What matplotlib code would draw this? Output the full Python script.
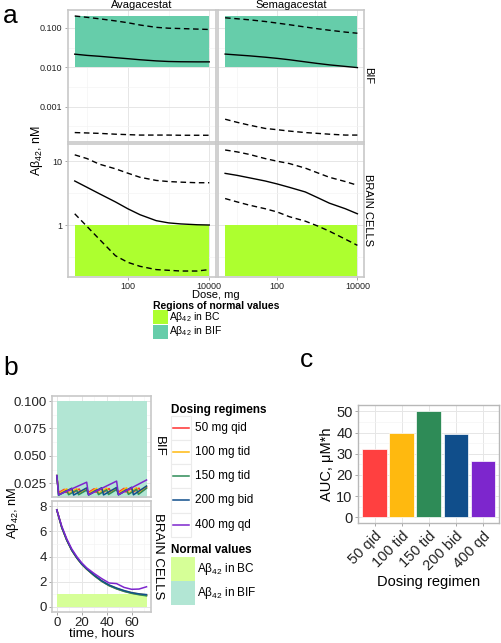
import matplotlib
matplotlib.use("Agg")
import matplotlib.pyplot as plt
from matplotlib.patches import Rectangle
from matplotlib.lines import Line2D
from matplotlib.ticker import NullFormatter

plt.rcParams['font.family'] = ['Liberation Sans', 'DejaVu Sans']
plt.rcParams['mathtext.fontset'] = 'custom'
plt.rcParams['mathtext.rm'] = 'Liberation Sans'
plt.rcParams['mathtext.it'] = 'Liberation Sans:italic'
plt.rcParams['mathtext.bf'] = 'Liberation Sans:bold'

# ---------------- data: panel a ----------------
doses = [5, 10, 20, 50, 100, 200, 500, 1000, 2000, 5000, 10000]
drugs = ['Avagacestat', 'Semagacestat']
compartments = ['BIF', 'BRAIN CELLS']

ava_bif_hi = [0.20, 0.185, 0.17, 0.15, 0.135, 0.118, 0.103, 0.098, 0.096, 0.093, 0.091]
ava_bif_mid = [0.0215, 0.020, 0.019, 0.0175, 0.0165, 0.0155, 0.0145, 0.014, 0.0138, 0.0137, 0.0137]
ava_bif_lo = [0.00022, 0.000215, 0.00021, 0.0002, 0.000195, 0.00019, 0.00019, 0.00019, 0.000188, 0.000188, 0.000188]

sem_bif_hi = [0.18, 0.17, 0.16, 0.145, 0.132, 0.12, 0.105, 0.095, 0.087, 0.078, 0.073]
sem_bif_mid = [0.0216, 0.0205, 0.0195, 0.018, 0.0168, 0.0155, 0.0137, 0.0125, 0.0115, 0.0105, 0.0098]
sem_bif_lo = [0.00048, 0.0004, 0.00034, 0.00028, 0.00026, 0.00024, 0.00022, 0.00021, 0.0002, 0.00019, 0.00019]

ava_bc_hi = [12.6, 11.0, 9.0, 7.6, 6.5, 5.6, 5.0, 4.8, 4.7, 4.6, 4.6]
ava_bc_mid = [4.9, 3.9, 3.1, 2.3, 1.8, 1.45, 1.17, 1.08, 1.04, 1.01, 1.0]
ava_bc_lo = [1.5, 0.95, 0.6, 0.33, 0.26, 0.225, 0.2, 0.195, 0.19, 0.19, 0.2]

sem_bc_hi = [15.0, 14.0, 12.8, 11.0, 10.0, 9.2, 7.8, 6.6, 5.6, 4.8, 4.2]
sem_bc_mid = [6.45, 6.0, 5.5, 4.9, 4.4, 3.9, 3.3, 2.7, 2.2, 1.8, 1.5]
sem_bc_lo = [2.6, 2.3, 2.05, 1.8, 1.6, 1.35, 1.15, 0.97, 0.8, 0.6, 0.48]

normal_bif = (0.01, 0.2)
normal_bc = (0.16, 1.0)

# ---------------- data: panel b ----------------
regimens = ['50 mg qid', '100 mg tid', '150 mg tid', '200 mg bid', '400 mg qd']
reg_colors = ['#ff3030', '#ffb90f', '#2e8b57', '#104e8b', '#7d26cd']

t_qid = [0, 1.5, 6, 7.5, 12, 13.5, 18, 19.5, 24, 25.5, 30, 31.5, 36, 37.5, 42, 43.5,
         48, 49.5, 54, 55.5, 60, 61.5, 66, 67.5, 72]
v_50qid = [0.032, 0.0165, 0.0195, 0.0166, 0.0197, 0.0166, 0.0198, 0.0167, 0.0199, 0.0167,
           0.0200, 0.0168, 0.0201, 0.0168, 0.0202, 0.0169, 0.0203, 0.0169, 0.0204, 0.0170,
           0.0205, 0.0170, 0.0206, 0.0171, 0.0210]
t_tid = [0, 1.5, 8, 9.5, 16, 17.5, 24, 25.5, 32, 33.5, 40, 41.5, 48, 49.5, 56, 57.5, 64, 65.5, 72]
v_100tid = [0.032, 0.0155, 0.0200, 0.0156, 0.0202, 0.0156, 0.0204, 0.0157, 0.0205, 0.0157,
            0.0207, 0.0158, 0.0208, 0.0158, 0.0210, 0.0159, 0.0211, 0.0160, 0.0222]
v_150tid = [0.032, 0.0145, 0.0185, 0.0146, 0.0187, 0.0146, 0.0188, 0.0147, 0.0190, 0.0147,
            0.0191, 0.0148, 0.0193, 0.0148, 0.0194, 0.0149, 0.0196, 0.0149, 0.0205]
t_bid = [0, 1.5, 12, 13.5, 24, 25.5, 36, 37.5, 48, 49.5, 60, 61.5, 72]
v_200bid = [0.032, 0.0142, 0.0205, 0.0143, 0.0208, 0.0143, 0.0210, 0.0144, 0.0212, 0.0144,
            0.0214, 0.0145, 0.0225]
t_qd = [0, 1.5, 24, 25.5, 48, 49.5, 72]
v_400qd = [0.032, 0.0145, 0.026, 0.0145, 0.027, 0.0146, 0.028]

t_bc = [0, 4, 8, 12, 16, 20, 24, 30, 36, 42, 48, 54, 60, 66, 72]
bc_50qid = [7.7, 6.3, 5.3, 4.5, 3.9, 3.4, 3.0, 2.5, 2.05, 1.7, 1.45, 1.25, 1.1, 1.0, 0.92]
bc_100tid = [7.7, 6.3, 5.3, 4.5, 3.9, 3.4, 3.0, 2.5, 2.07, 1.72, 1.47, 1.28, 1.13, 1.02, 0.95]
bc_150tid = [7.7, 6.3, 5.3, 4.5, 3.9, 3.4, 3.0, 2.48, 2.03, 1.68, 1.43, 1.23, 1.08, 0.97, 0.88]
bc_200bid = [7.7, 6.3, 5.3, 4.5, 3.9, 3.4, 3.02, 2.52, 2.08, 1.74, 1.5, 1.3, 1.14, 1.04, 0.98]
bc_400qd = [7.7, 6.4, 5.4, 4.6, 4.0, 3.5, 3.1, 2.65, 2.25, 1.9, 1.85, 1.55, 1.4, 1.42, 1.6]

normal_b_bif = (0.01, 0.1)
normal_b_bc = (0.0, 1.0)

# ---------------- data: panel c ----------------
auc_labels = ['50 qid', '100 tid', '150 tid', '200 bid', '400 qd']
auc_values = [32.2, 39.7, 50.3, 39.1, 26.6]
bar_colors = ['#ff4040', '#ffb90f', '#2e8b57', '#104e8b', '#7d26cd']

TEAL = '#66cdaa'
GY = '#adff2f'
TEAL_L = '#b2e6d4'
GY_L = '#d6ff97'

W, H = 502, 643
fig = plt.figure(figsize=(W / 100, H / 100), dpi=100)


def box(x0, y0, x1, y1):
    return [x0 / W, 1 - y1 / H, (x1 - x0) / W, (y1 - y0) / H]


def style(ax, size, border='#c8c8c8', blw=1.2):
    for s in ax.spines.values():
        s.set_color(border)
        s.set_linewidth(blw)
    ax.tick_params(which='major', length=2.5, width=0.6, color='#9a9a9a',
                   labelsize=size, labelcolor='#222222', pad=1.5)
    ax.tick_params(which='minor', length=0)
    ax.set_axisbelow(True)
    ax.grid(which='major', color='#e6e6e6', lw=0.7)
    ax.grid(which='minor', color='#f3f3f3', lw=0.45)


dash = (0, (4, 2.6))

# ---------------- panel a ----------------
a_boxes = {
    (0, 0): box(68, 10, 216, 142), (0, 1): box(218.5, 10, 364, 142),
    (1, 0): box(68, 144, 216, 277), (1, 1): box(218.5, 144, 364, 277),
}
series = {
    (0, 0): (ava_bif_hi, ava_bif_mid, ava_bif_lo),
    (0, 1): (sem_bif_hi, sem_bif_mid, sem_bif_lo),
    (1, 0): (ava_bc_hi, ava_bc_mid, ava_bc_lo),
    (1, 1): (sem_bc_hi, sem_bc_mid, sem_bc_lo),
}
for (r, c), b in a_boxes.items():
    ax = fig.add_axes(b)
    ax.set_xscale('log')
    ax.set_yscale('log')
    style(ax, 6.5)
    hi, mid, lo = series[(r, c)]
    if r == 0:
        lo_n, hi_n = normal_bif
        col = TEAL
        ax.set_ylim(10 ** -3.897, 10 ** -0.547)
        ax.set_yticks([0.001, 0.01, 0.1])
        ax.set_yticklabels(['0.001', '0.010', '0.100'] if c == 0 else [])
        ax.set_yticks([10 ** -3.5, 10 ** -2.5, 10 ** -1.5], minor=True)
    else:
        lo_n, hi_n = normal_bc
        col = GY
        ax.set_ylim(10 ** -0.815, 10 ** 1.27)
        ax.set_yticks([1, 10])
        ax.set_yticklabels(['1', '10'] if c == 0 else [])
        ax.set_yticks([10 ** -0.5, 10 ** 0.5], minor=True)
    ax.fill_between([doses[0], doses[-1]], lo_n, hi_n, color=col, lw=0, zorder=1)
    ax.plot(doses, hi, color='black', lw=1.0, ls=dash, zorder=3)
    ax.plot(doses, mid, color='black', lw=1.0, zorder=3)
    ax.plot(doses, lo, color='black', lw=1.0, ls=dash, zorder=3)
    ax.set_xlim(10 ** 0.534, 10 ** 4.165)
    ax.set_xticks([100, 10000])
    ax.set_xticklabels(['100', '10000'] if r == 1 else [])
    ax.set_xticks([10, 1000], minor=True)
    ax.xaxis.set_minor_formatter(NullFormatter())
    ax.yaxis.set_minor_formatter(NullFormatter())
    ax.tick_params(axis='x', pad=1)
    if r == 0:
        ax.tick_params(axis='x', which='major', length=0)
    if c == 1:
        ax.tick_params(axis='y', which='major', length=0)

# ---------------- panel b ----------------
axbt = fig.add_axes(box(52.3, 396, 151, 497))
style(axbt, 9.5)
axbt.fill_between([0, 72], normal_b_bif[0], normal_b_bif[1], color=TEAL_L, lw=0, zorder=1)
b_top_series = [(t_qid, v_50qid), (t_tid, v_100tid), (t_tid, v_150tid),
                (t_bid, v_200bid), (t_qd, v_400qd)]
for (tt, vv), colr in zip(b_top_series, reg_colors):
    axbt.plot(tt, vv, color=colr, lw=1.1, zorder=3)
axbt.set_xlim(-3.6, 75.6)
axbt.set_ylim(0.0125, 0.1046)
axbt.set_yticks([0.025, 0.05, 0.075, 0.1])
axbt.set_yticklabels(['0.025', '0.050', '0.075', '0.100'])
axbt.set_yticks([0.0375, 0.0625, 0.0875], minor=True)
axbt.set_xticks([0, 20, 40, 60])
axbt.set_xticks([10, 30, 50, 70], minor=True)
axbt.set_xticklabels([])
axbt.tick_params(axis='x', which='major', length=0)

axbb = fig.add_axes(box(52.3, 501, 151, 612))
style(axbb, 9.5)
axbb.fill_between([0, 72], normal_b_bc[0], normal_b_bc[1], color=GY_L, lw=0, zorder=1)
b_bot_series = [bc_50qid, bc_100tid, bc_150tid, bc_200bid, bc_400qd]
for vv, colr in zip(b_bot_series, reg_colors):
    axbb.plot(t_bc, vv, color=colr, lw=1.1, zorder=3)
axbb.set_xlim(-3.6, 75.6)
axbb.set_ylim(-0.4, 8.4)
axbb.set_yticks([0, 2, 4, 6, 8])
axbb.set_yticks([1, 3, 5, 7], minor=True)
axbb.set_xticks([0, 20, 40, 60])
axbb.set_xticks([10, 30, 50, 70], minor=True)
axbb.tick_params(axis='x', pad=1)

# ---------------- panel c ----------------
axc = fig.add_axes(box(358.3, 405, 499, 522.7))
style(axc, 10.5, border='#b8b8b8', blw=1.0)
xpos = list(range(1, len(auc_values) + 1))
axc.bar(xpos, auc_values, width=0.9, color=bar_colors, edgecolor='white', linewidth=0.5, zorder=3)
axc.set_xlim(0.4, 5.6)
axc.set_ylim(-2.5, 53)
axc.set_yticks([0, 10, 20, 30, 40, 50])
axc.set_yticks([5, 15, 25, 35, 45], minor=True)
axc.set_xticks(xpos)
axc.set_xticklabels(auc_labels, rotation=45, ha='right', rotation_mode='anchor')
axc.tick_params(axis='x', pad=2)
axc.set_ylabel('AUC, μM*h', fontsize=10.5, labelpad=2)
axc.set_xlabel('Dosing regimen', fontsize=10.5, labelpad=1)

# ---------------- overlay: labels and legends ----------------
ov = fig.add_axes([0, 0, 1, 1])
ov.set_xlim(0, W)
ov.set_ylim(H, 0)
ov.axis('off')

AB = r'A$\mathregular{\beta_{42}}$'

ov.text(3, 16, 'a', fontsize=19, ha='left', va='center')
ov.text(3, 368, 'b', fontsize=19, ha='left', va='center')
ov.text(307, 360, 'c', fontsize=19, ha='center', va='center')

ov.text(142, 5.5, 'Avagacestat', fontsize=8, ha='center', va='center')
ov.text(291, 5.5, 'Semagacestat', fontsize=8, ha='center', va='center')
ov.text(368, 76, 'BIF', fontsize=8, rotation=-90, ha='center', va='center')
ov.text(368, 210.5, 'BRAIN CELLS', fontsize=8, rotation=-90, ha='center', va='center')
ov.text(37, 150, AB + ', nM', fontsize=9, rotation=90, ha='center', va='center')
ov.text(216, 294.5, 'Dose, mg', fontsize=8, ha='center', va='center')

ov.text(153, 306, 'Regions of normal values', fontsize=7.5, fontweight='bold',
        ha='left', va='center')
ov.add_patch(Rectangle((153, 310), 15, 14, color=GY, lw=0))
ov.add_patch(Rectangle((153, 324.5), 15, 14, color=TEAL, lw=0))
ov.text(169, 317, AB + ' in BC', fontsize=7.5, ha='left', va='center')
ov.text(169, 331.5, AB + ' in BIF', fontsize=7.5, ha='left', va='center')

# panel b strips / labels
ov.text(158.5, 446.5, 'BIF', fontsize=9.5, rotation=-90, ha='center', va='center')
ov.text(158.5, 556.5, 'BRAIN CELLS', fontsize=9.5, rotation=-90, ha='center', va='center')
ov.text(13, 513, AB + ', nM', fontsize=9.3, rotation=90, ha='center', va='center')
ov.text(101.6, 634, 'time, hours', fontsize=9.5, ha='center', va='center')

ov.text(171.5, 410, 'Dosing regimens', fontsize=8.5, fontweight='bold', ha='left', va='center')
for i, (lab, colr) in enumerate(zip(regimens, reg_colors)):
    y0 = 415.7 + i * 24.2
    ov.add_patch(Rectangle((171.5, y0), 19.5, 24.2, facecolor='white',
                           edgecolor='#ebebeb', lw=0.8))
    ov.add_line(Line2D([173.5, 189], [y0 + 12.1, y0 + 12.1], color=colr, lw=1.1))
    ov.text(195, y0 + 12.1, lab, fontsize=8.5, ha='left', va='center')

ov.text(171.5, 550, 'Normal values', fontsize=8.5, fontweight='bold', ha='left', va='center')
ov.add_patch(Rectangle((171.5, 556.5), 23.5, 24.2, color=GY_L, lw=0))
ov.add_patch(Rectangle((171.5, 580.7), 23.5, 24.2, color=TEAL_L, lw=0))
ov.text(197, 568.6, AB + ' in BC', fontsize=8.5, ha='left', va='center')
ov.text(197, 592.8, AB + ' in BIF', fontsize=8.5, ha='left', va='center')

fig.savefig('out.png', dpi=100)
